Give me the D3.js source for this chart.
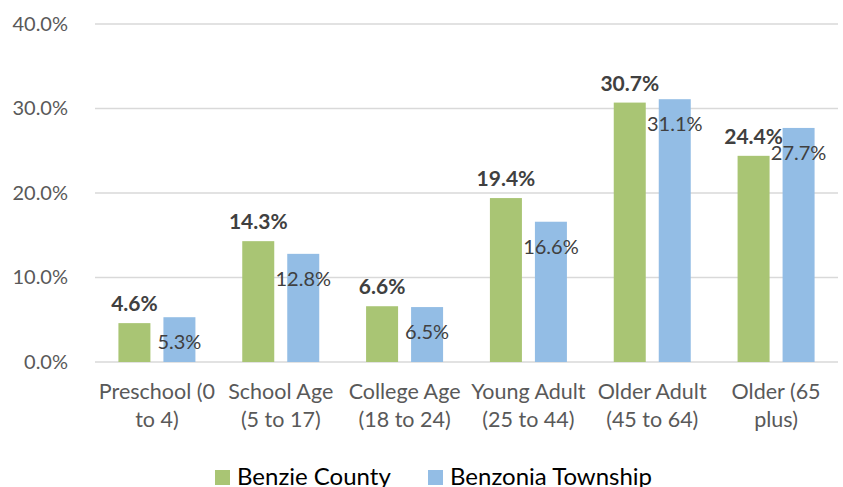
<!DOCTYPE html>
<html>
<head>
<meta charset="utf-8">
<script src="https://cdn.jsdelivr.net/npm/d3@7"></script>
<style>
  body { margin: 0; background: #fff; }
  svg { display: block; }
</style>
</head>
<body>
<svg id="chart"></svg>
<script>
// chart data
const categories = [
  ['Preschool (0', 'to 4)'],
  ['School Age', '(5 to 17)'],
  ['College Age', '(18 to 24)'],
  ['Young Adult', '(25 to 44)'],
  ['Older Adult', '(45 to 64)'],
  ['Older (65', 'plus)']
];
const seriesNames = ['Benzie County', 'Benzonia Township'];
const benzieCounty = [4.6, 14.3, 6.6, 19.4, 30.7, 24.4];
const benzoniaTownship = [5.3, 12.8, 6.5, 16.6, 31.1, 27.7];
const yTicks = [0, 10, 20, 30, 40];

const width = 843, height = 487;
const margin = { top: 24, right: 5, bottom: 125, left: 95 };
const colors = ['#a9c574', '#93bde5'];
const font = 'Lato, sans-serif';

const svg = d3.select('#chart').attr('width', width).attr('height', height);

const x = d3.scaleBand()
  .domain(d3.range(categories.length))
  .range([margin.left, width - margin.right]);

const y = d3.scaleLinear()
  .domain([0, 40])
  .range([height - margin.bottom, margin.top]);

// gridlines
svg.append('g')
  .selectAll('line')
  .data(yTicks)
  .join('line')
  .attr('x1', margin.left).attr('x2', width - margin.right)
  .attr('y1', d => y(d)).attr('y2', d => y(d))
  .attr('stroke', '#d9d9d9').attr('stroke-width', 1.5);

// y axis labels
const yAxis = svg.append('g')
  .attr('transform', `translate(${margin.left - 24},0)`)
  .call(d3.axisLeft(y).tickValues(yTicks).tickSize(0).tickFormat(d => d.toFixed(1) + '%'));
yAxis.select('.domain').remove();
yAxis.selectAll('text')
  .attr('font-family', font)
  .attr('font-size', 20)
  .attr('fill', '#595959');

const barW = 32, off = 22.5;
const series = [benzieCounty, benzoniaTownship];

series.forEach((vals, s) => {
  const cx = i => x(i) + x.bandwidth() / 2 + (s === 0 ? -off : off);
  svg.append('g')
    .selectAll('rect')
    .data(vals)
    .join('rect')
    .attr('x', (d, i) => cx(i) - barW / 2)
    .attr('y', d => y(d))
    .attr('width', barW)
    .attr('height', d => y(0) - y(d))
    .attr('fill', colors[s]);

  svg.append('g')
    .selectAll('text')
    .data(vals)
    .join('text')
    .attr('x', (d, i) => cx(i))
    .attr('y', d => s === 0 ? y(d) - 12 : y(d) + 32)
    .attr('text-anchor', 'middle')
    .attr('font-family', font)
    .attr('font-weight', s === 0 ? 'bold' : 'normal')
    .attr('font-size', s === 0 ? 21 : 20)
    .attr('fill', '#404040')
    .text(d => d.toFixed(1) + '%');
});

// category labels
const cat = svg.append('g');
categories.forEach((lines, i) => {
  const t = cat.append('text')
    .attr('x', x(i) + x.bandwidth() / 2)
    .attr('y', 399)
    .attr('text-anchor', 'middle')
    .attr('font-family', font)
    .attr('font-size', 21.5)
    .attr('fill', '#595959');
  lines.forEach((l, k) => {
    t.append('tspan')
      .attr('x', x(i) + x.bandwidth() / 2)
      .attr('dy', k === 0 ? 0 : 28)
      .text(l);
  });
});

// legend
const legend = svg.append('g');
const legendX = [215, 428];
seriesNames.forEach((name, s) => {
  legend.append('rect')
    .attr('x', legendX[s]).attr('y', 470)
    .attr('width', 15).attr('height', 15)
    .attr('fill', colors[s]);
  legend.append('text')
    .attr('x', legendX[s] + 22).attr('y', 485)
    .attr('font-family', font)
    .attr('font-size', 24)
    .attr('fill', '#000')
    .text(name);
});
</script>
</body>
</html>
